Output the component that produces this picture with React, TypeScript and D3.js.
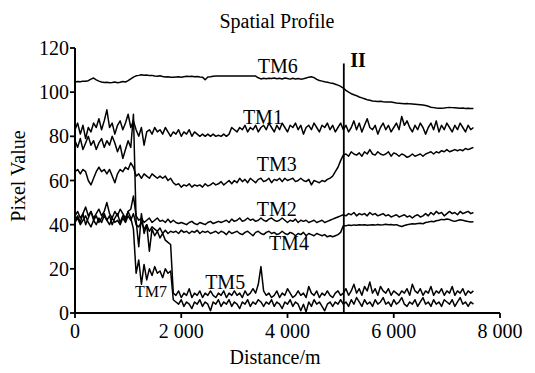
import React from "react";
import * as d3 from "d3";

// distance sampling (m), 50 m step, 0..7500
const distances: number[] = d3.range(0, 7501, 50);

const tm6: number[] = [
  104.6,104.8,104.7,105.0,104.9,105.2,105.9,106.4,105.6,105.0,
  104.6,104.4,104.5,104.3,104.4,104.6,104.3,104.5,104.8,104.6,
  105.2,106.0,106.8,107.4,107.6,107.9,107.7,107.8,107.5,107.6,
  107.3,107.2,107.4,107.1,106.9,107.0,106.8,106.8,106.9,107.0,
  106.8,107.0,107.2,107.1,107.2,107.0,107.1,106.9,106.8,105.6,
  106.9,107.0,107.2,107.3,107.3,107.3,107.3,107.3,107.3,107.3,
  107.3,107.3,107.3,107.3,107.3,107.3,107.3,107.3,107.3,106.5,
  106.0,106.3,106.1,106.3,106.2,106.4,106.1,106.3,106.0,106.4,
  106.2,105.9,106.3,106.0,106.2,105.9,106.1,106.4,106.8,107.0,
  106.6,105.8,105.3,105.0,104.7,104.5,104.2,104.0,103.6,103.2,
  102.6,101.8,100.8,100.0,99.3,98.8,98.4,97.8,97.4,97.0,
  96.6,96.3,96.0,95.9,95.8,95.9,95.7,95.6,95.6,95.5,
  95.3,95.1,95.0,94.9,94.8,94.9,94.7,94.6,94.5,94.4,
  94.3,94.2,94.0,93.6,93.2,93.0,92.8,92.7,92.7,92.8,
  93.0,93.1,93.0,92.9,92.8,92.7,92.8,92.6,92.7,92.6,
  92.6
];

const tm1: number[] = [
  83,86,81,85,79,84,82,86,84,88,
  83,87,92,84,86,81,85,87,83,86,
  90,84,87,83,80,84,76,82,83,81,
  84,82,83,81,84,82,80,82,81,83,
  80,82,81,83,80,82,81,80,81,80,
  81,80,81,80,80.5,80,81,80,81,84,
  83,82,84,83,85,82,84,83,85,82,
  84,85,83,86,84,82,85,83,86,84,
  82,85,84,86,83,85,81,84,85,83,
  86,84,82,85,84,86,83,85,82,84,
  86,83,85,82,84,87,83,86,82,85,
  88,84,83,85,81,84,86,83,85,82,
  84,86,83,89,85,87,84,82,85,83,
  86,84,81,84,86,83,87,82,85,83,
  86,84,82,85,83,86,84,82,85,83,
  84
];

const tm3: number[] = [
  64,65,63,65,64,60,58,61,64,66,
  64,65,63,65,62,59,63,65,64,66,
  65,68,66,62,63,61,63,62,61,63,
  62,61,62,61,62,60,61,59,58,58.5,
  57,58,57.5,58.5,57,58,57.5,58,57,58.5,
  57.5,58,59,58,58.5,59.5,58,59,60,58.5,
  60,59,61,59.5,60.5,59,61,60,59,60.5,
  61,59.5,60,61,59,60.5,60,61,59.5,61,
  60,60.5,61,59.5,60,61,60,59.5,60.5,58,
  60,59.5,59,60,59.5,60.5,61,62,64,66,
  69,71.5,72,71,73,72,71.5,72.5,71,73,
  72,74,72,71.5,73,72,71.5,72,73,71,
  72.5,72,71,72,71.5,70.5,71,72,71,71.5,
  72,71,72,72.5,73,72,73,72.5,73.5,73,
  74,73,73.5,74,73.5,74,73.5,74.5,74,74.5,
  75
];

const tm2: number[] = [
  44,46,43,45,48,44,46,43,45,47,
  44,46,50,45,43,46,44,47,45,43,
  46,47,53,44,42,43,41,42,43,41,
  42,43,41.5,42,41,42.5,41,42,41,40.5,
  41,40.5,40,41,41.5,40.5,40,41,40.5,40,
  41,41.5,40.5,41,41.5,41,41.5,42,41,42.5,
  41.5,42,43,41.5,42,43,42,42.5,41.5,42,
  43,42,41.5,42.5,43,42,41.5,42,43,42,
  41,42,41.5,42.5,41,42,41.5,42,41,41.5,
  42,41,41.5,42,41,41.5,42,42.5,43,43.5,
  44,44.5,44,45,44.5,45.5,44,45,44.5,45,
  44,45.5,44.5,45,44,44.5,45,44,44.5,43.5,
  44,44.5,43.5,44,44.5,43.5,44,43,44,44.5,
  43.5,44,45,44,45.5,44.5,46,45,45.5,44,
  45,46,45,45.5,44.5,46,45,45.5,46,45,
  45.5
];

const tm4: number[] = [
  41,43,40,42,44,41,39,42,40,43,
  41,44,42,40,43,41,42,40,43,41,
  44,42,45,40,39,41,38,40,37,39,
  38,37,38.5,36,37.5,36,37,36.5,37,36,
  37.5,36.5,37,36,37,36.5,37.5,36,37,36.5,
  37,36,36.5,37,36,37,36.5,35.5,37,36,
  36.5,37,36,35.5,36.5,37,36,35,36.5,37,
  36,35.5,36.5,37,36,36.5,35.5,36,37,36,
  35.5,36.5,36,35,36,35.5,36.5,35,36,35.5,
  35,36,35.5,35,35.5,34.5,35,34.5,35,35.5,
  36.5,39.5,39.5,39.8,39.6,39.9,39.7,40,39.8,40,
  39.7,39.9,40,39.8,40.1,39.9,40,40.2,40,40.1,
  39.9,40,39.5,39.2,39.6,40,40.2,40.4,40.3,40.5,
  40.6,40.4,41,41.2,41.5,41.3,41.8,42,42.4,42.2,
  42.6,42.3,41.8,41.5,41.9,42.2,42,41.7,41.4,41.2,
  41.3
];

const tm5: number[] = [
  78,75,79,74,77,80,76,78,74,77,
  79,75,78,76,80,77,73,76,70,74,
  78,75,90,42,30,45,36,40,28,38,
  35,37,34,36,33,32,31,9,8,10,
  7,9,8,11,7,9,8,10,7,9,
  8,10,8,7,9,8,10,7,9,8,
  10,8,9,7,10,8,9,11,9,13,
  21,10,8,9,7,8,10,7,9,8,
  11,9,7,8,10,8,9,7,12,9,
  8,10,7,9,8,10,8,7,9,10,
  8,9,11,8,10,13,9,11,8,12,
  10,14,9,11,8,12,10,9,11,8,
  10,9,8,10,9,11,8,13,10,9,
  11,8,10,9,12,8,10,9,11,8,
  10,9,12,8,10,9,11,8,10,9,
  10
];

const tm7: number[] = [
  42,44,41,45,40,43,46,42,44,41,
  43,45,42,44,40,43,45,41,44,42,
  46,43,38,18,24,13,22,15,20,17,
  21,18,19,16,20,18,19,6,5,4,
  6,3,5,4,2,5,4,6,3,5,
  4,1,5,4,6,3,5,4,6,3,
  5,4,2,5,4,6,3,5,4,6,
  5,3,5,4,6,3,5,4,2,5,
  4,6,3,5,4,1,4,0.5,5,3,
  6,4,5,3,1,4,5,3,5,4,
  6,4,5,3,6,4,7,5,3,6,
  4,5,3,6,4,5,7,4,5,3,
  6,4,5,7,4,3,5,4,6,3,
  5,7,4,5,3,6,4,5,3,6,
  5,4,6,3,5,7,4,5,3,5,
  4
];

const seriesNames: string[] = ["TM6", "TM1", "TM3", "TM2", "TM4", "TM5", "TM7"];
const seriesValues: number[][] = [tm6, tm1, tm3, tm2, tm4, tm5, tm7];

// label anchors in data units [distance, value]
const labelNames: string[] = ["TM6", "TM1", "TM3", "TM2", "TM4", "TM5", "TM7", "II"];
const labelDist: number[] = [3440, 3160, 3420, 3420, 3650, 2450, 1130, 5180];
const labelVal: number[] = [108.7, 85.6, 64.3, 43.9, 28.5, 10.9, 7.2, 111.2];

const boundaryDist = 5060;
const boundaryTop = 113;

const xTicks: number[] = [0, 2000, 4000, 6000, 8000];
const xTickLabels: string[] = ["0", "2 000", "4 000", "6 000", "8 000"];
const yTicks: number[] = [0, 20, 40, 60, 80, 100, 120];

export default function App() {
  const W = 535, H = 373;
  const x = d3.scaleLinear().domain([0, 8000]).range([75, 500]);
  const y = d3.scaleLinear().domain([0, 120]).range([313, 48]);
  const line = d3
    .line<number>()
    .x((_, i) => x(distances[i]))
    .y((v) => y(v));
  const font = "'Liberation Serif', 'Times New Roman', serif";
  return (
    <svg
      width={W}
      height={H}
      style={{ position: "absolute", left: 0, top: 0, background: "#fff" }}
      fontFamily={font}
    >
      <rect width={W} height={H} fill="#fff" />
      <text x={277} y={28} textAnchor="middle" fontSize={20}>
        Spatial Profile
      </text>
      {seriesValues.map((vals, k) => (
        <path
          key={seriesNames[k]}
          d={line(vals) || ""}
          fill="none"
          stroke="#000"
          strokeWidth={1.5}
          strokeLinejoin="round"
        />
      ))}
      <line
        x1={x(boundaryDist)}
        x2={x(boundaryDist)}
        y1={y(0)}
        y2={y(boundaryTop)}
        stroke="#000"
        strokeWidth={1.8}
      />
      <line x1={x(0)} x2={x(0)} y1={y(0)} y2={y(120)} stroke="#000" strokeWidth={2} />
      <line x1={x(0)} x2={x(8000)} y1={y(0)} y2={y(0)} stroke="#000" strokeWidth={2} />
      {yTicks.map((t) => (
        <g key={"y" + t}>
          <line x1={x(0) - 5} x2={x(0)} y1={y(t)} y2={y(t)} stroke="#000" strokeWidth={1.8} />
          <text x={x(0) - 6} y={y(t)} dy="0.35em" textAnchor="end" fontSize={20}>
            {t}
          </text>
        </g>
      ))}
      {xTicks.map((t, i) => (
        <g key={"x" + t}>
          <line x1={x(t)} x2={x(t)} y1={y(0)} y2={y(0) + 5} stroke="#000" strokeWidth={1.8} />
          <text x={x(t)} y={338} textAnchor="middle" fontSize={20}>
            {xTickLabels[i]}
          </text>
        </g>
      ))}
      <text x={275} y={364} textAnchor="middle" fontSize={20}>
        Distance/m
      </text>
      <text
        transform={`translate(25,${y(62)}) rotate(-90)`}
        textAnchor="middle"
        fontSize={20}
      >
        Pixel Value
      </text>
      {labelNames.map((n, i) => (
        <text
          key={n}
          x={x(labelDist[i])}
          y={y(labelVal[i])}
          fontSize={n === "TM7" ? 16 : 20}
          fontWeight={n === "II" ? "bold" : "normal"}
        >
          {n}
        </text>
      ))}
    </svg>
  );
}
